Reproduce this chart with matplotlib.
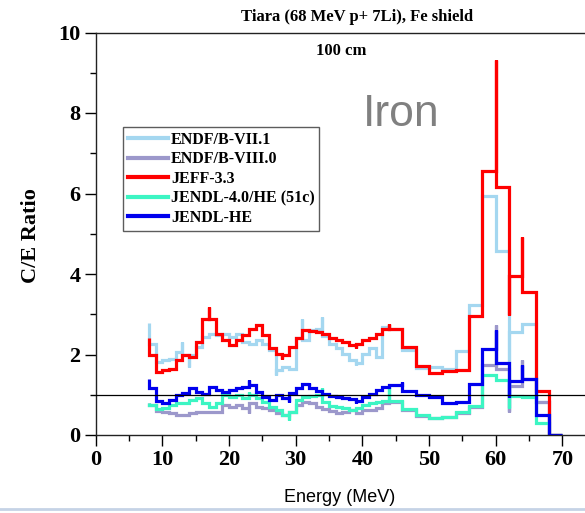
import matplotlib
matplotlib.use("Agg")
import matplotlib.pyplot as plt
from matplotlib.lines import Line2D
import numpy as np

# ---------------- data ----------------
edges = list(range(8, 46)) + list(range(46, 71, 2))   # MeV bin edges

endf71 = [2.27, 1.82, 1.86, 1.88, 2.07, 2.00, 2.00, 2.19, 2.44, 2.52, 2.48, 2.52, 2.44, 2.52,
          2.31, 2.27, 2.36, 2.27, 2.11, 1.61, 1.69, 1.65, 2.40, 2.36, 2.60, 2.64, 2.45, 2.25,
          2.15, 2.02, 1.86, 1.78, 2.02, 2.15, 1.94, 2.69, 2.64, 2.64,
          2.12, 1.66, 1.68, 1.65, 2.09, 3.22, 5.93, 4.57, 2.56, 2.75, 0.83, 0.0]
endf80 = [0.74, 0.60, 0.58, 0.54, 0.50, 0.50, 0.54, 0.58, 0.58, 0.58, 0.58, 0.74, 0.70, 0.74,
          0.66, 0.79, 0.70, 0.66, 0.62, 0.55, 0.50, 0.58, 0.74, 0.83, 0.79, 0.70, 0.64, 0.60,
          0.54, 0.58, 0.62, 0.54, 0.62, 0.62, 0.66, 0.79, 0.83, 0.83,
          0.62, 0.48, 0.43, 0.45, 0.55, 0.70, 1.74, 1.64, 1.22, 1.40, 0.83, 0.0]
jeff33 = [1.98, 1.57, 1.61, 1.65, 1.86, 1.98, 1.94, 2.31, 2.87, 2.87, 2.52, 2.37, 2.23, 2.36,
          2.48, 2.64, 2.74, 2.48, 2.15, 2.01, 1.98, 2.19, 2.42, 2.62, 2.59, 2.57, 2.52, 2.40,
          2.36, 2.31, 2.23, 2.27, 2.36, 2.40, 2.52, 2.64, 2.64, 2.64,
          2.19, 1.71, 1.55, 1.60, 1.62, 2.95, 6.55, 6.16, 3.94, 3.55, 1.10, 0.0]
jendl40 = [0.74, 0.64, 0.66, 0.74, 0.79, 0.80, 0.87, 0.91, 0.80, 0.70, 0.79, 0.99, 0.95, 0.99,
           0.91, 0.99, 0.91, 0.83, 0.70, 0.62, 0.50, 0.58, 0.87, 0.95, 0.97, 0.99, 0.83, 0.72,
           0.70, 0.66, 0.62, 0.66, 0.74, 0.79, 0.83, 0.85, 0.85, 0.85,
           0.64, 0.50, 0.41, 0.45, 0.58, 0.72, 1.48, 1.36, 0.97, 0.95, 0.29, 0.0]
jendlhe = [1.16, 0.85, 0.80, 0.88, 0.99, 1.05, 1.16, 1.07, 1.03, 1.20, 1.12, 1.07, 1.12, 1.16,
           1.20, 1.24, 1.07, 0.95, 0.88, 0.99, 0.91, 1.05, 1.18, 1.26, 1.16, 1.10, 1.03, 0.97,
           0.95, 0.93, 0.89, 0.84, 0.95, 1.03, 1.12, 1.20, 1.24, 1.24,
           1.10, 0.99, 0.95, 0.80, 0.83, 1.26, 2.14, 1.78, 1.34, 1.38, 0.50, 0.0]

# narrow spikes at bin edges (energy, value)
endf71_spk_e = [8, 13, 14, 27, 31, 34, 39, 44, 62]
endf71_spk_v = [2.79, 2.31, 1.68, 1.49, 2.87, 2.93, 1.74, 2.77, 0.60]
endf80_spk_e = [8, 23, 60, 62, 64]
endf80_spk_v = [0.79, 0.54, 2.73, 0.58, 1.86]
jeff33_spk_e = [8, 17, 28, 39, 44, 60, 62, 64]
jeff33_spk_v = [2.40, 3.18, 1.90, 2.15, 2.77, 9.31, 2.98, 4.93]
jendl40_spk_e = [8, 23, 29, 34, 44, 62]
jendl40_spk_v = [0.79, 1.07, 0.37, 1.16, 1.20, 0.66]
jendlhe_spk_e = [8, 23, 29, 32, 39, 46, 60, 62, 64]
jendlhe_spk_v = [1.40, 1.36, 0.83, 1.30, 0.80, 1.32, 2.62, 0.95, 1.74]

labels = ["ENDF/B-VII.1", "ENDF/B-VIII.0", "JEFF-3.3", "JENDL-4.0/HE (51c)", "JENDL-HE"]
colors = ["#a4d7f0", "#9c98cb", "#ff0000", "#3cf5c3", "#0000ee"]
series = [endf71, endf80, jeff33, jendl40, jendlhe]
spikes = [(endf71_spk_e, endf71_spk_v), (endf80_spk_e, endf80_spk_v),
          (jeff33_spk_e, jeff33_spk_v), (jendl40_spk_e, jendl40_spk_v),
          (jendlhe_spk_e, jendlhe_spk_v)]

xtick_vals = [0, 10, 20, 30, 40, 50, 60, 70]
ytick_vals = [0, 2, 4, 6, 8, 10]


def step_path(edges, vals, spk_e, spk_v):
    sp = dict(zip(spk_e, spk_v))
    xs, ys = [], []
    n = len(vals)
    for i, e in enumerate(edges):
        if i > 0:
            xs.append(e); ys.append(vals[i - 1])
        if e in sp:
            xs.append(e); ys.append(sp[e])
        if i < n:
            xs.append(e); ys.append(vals[i])
    return xs, ys


W, H = 585, 513
fig = plt.figure(figsize=(W / 100, H / 100), dpi=100)
serif = "Liberation Serif"
sans = "Liberation Sans"

x0, x1 = 95.7, 585.0
y0, y1 = 435.0, 32.5
ax = fig.add_axes([x0 / W, 1 - y0 / H, (x1 - x0) / W, (y0 - y1) / H])
ax.set_xlim(0, (x1 - x0) / 6.667)
ax.set_ylim(0, 10)

for vals, (se, sv), c in zip(series, spikes, colors):
    xs, ys = step_path(edges, vals, se, sv)
    ax.plot(xs, ys, color=c, lw=2.3, solid_joinstyle="miter", solid_capstyle="butt")

ax.axhline(1.0, color="black", lw=0.9, zorder=5)

ax.spines["right"].set_visible(False)
for s in ["left", "top", "bottom"]:
    ax.spines[s].set_linewidth(1.0)
    ax.spines[s].set_color("#222222")

ax.set_xticks(xtick_vals)
ax.set_xticks(np.arange(0, 75, 5), minor=True)
ax.set_xticklabels([str(v) for v in xtick_vals], fontfamily=serif, fontweight="bold", fontsize=16)
ax.tick_params(axis="x", which="major", direction="out", length=8, width=1, pad=3)
ax.tick_params(axis="x", which="minor", direction="out", length=4, width=1)

ax.set_yticks(ytick_vals)
ax.set_yticks(np.arange(0, 11, 1), minor=True)
ax.set_yticklabels([str(v) for v in ytick_vals], fontfamily=serif, fontweight="bold", fontsize=16)
ax.tick_params(axis="y", which="major", direction="out", length=8, width=1, pad=3)
ax.tick_params(axis="y", which="minor", direction="out", length=4, width=1)

fig.text(340 / W, 1 - 497 / H, "Energy (MeV)", fontfamily=sans, fontsize=13,
         ha="center", va="center")
fig.text(31 / W, 1 - 236 / H, "C/E Ratio", fontfamily=serif, fontweight="bold", fontsize=16,
         rotation=90, ha="center", va="center")
fig.text(357 / W, 1 - 17 / H, "Tiara (68 MeV p+ 7Li), Fe shield", fontfamily=serif,
         fontweight="bold", fontsize=12, ha="center", va="center")
fig.text(341 / W, 1 - 51 / H, "100 cm", fontfamily=serif, fontweight="bold", fontsize=12,
         ha="center", va="center")
fig.text(401 / W, 1 - 115 / H, "Iron", fontfamily=sans, fontsize=32, color="#808080",
         ha="center", va="center")

handles = [Line2D([], [], color=c, lw=3) for c in colors]
leg = ax.legend(handles, labels, loc="upper left",
                bbox_to_anchor=((123 - x0) / (x1 - x0), (y0 - 127) / (y0 - y1)),
                borderaxespad=0, frameon=True, fancybox=False, shadow=False,
                prop={"family": serif, "weight": "bold", "size": 11.5},
                handlelength=2.5, handletextpad=0.2, labelspacing=0.22,
                borderpad=0.3)
leg.get_frame().set_edgecolor("#333333")
leg.get_frame().set_linewidth(1.0)

fig.add_artist(Line2D([0, 1], [1 - 509 / H, 1 - 509 / H], transform=fig.transFigure,
                      color="#c5d3e6", lw=2))

fig.savefig("out.png", dpi=100)
